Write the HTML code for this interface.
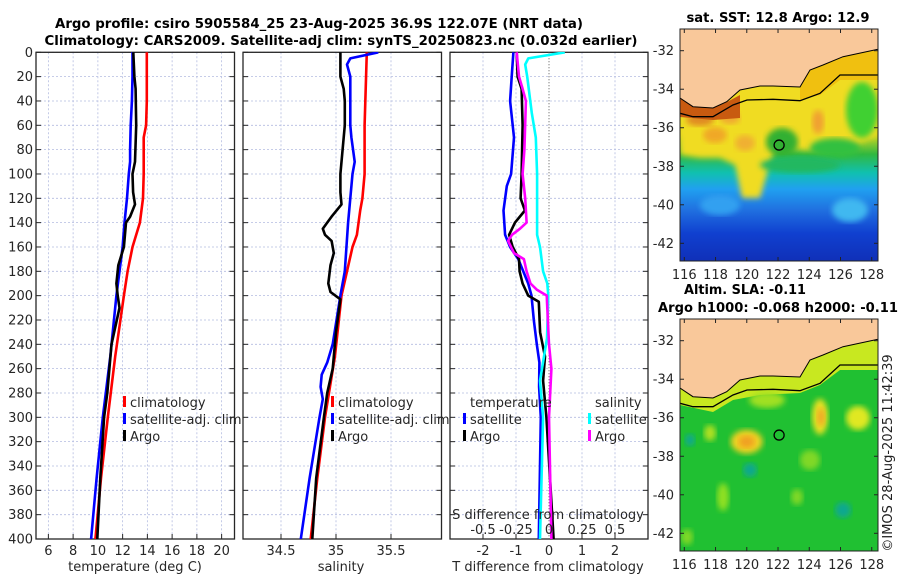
<!DOCTYPE html>
<html><head><meta charset="utf-8"><style>
html,body{margin:0;padding:0;background:#fff;}
svg{display:block;font-family:"DejaVu Sans","Liberation Sans",sans-serif;}
</style></head><body>
<svg id="fig" width="900" height="580" viewBox="0 0 900 580" xmlns="http://www.w3.org/2000/svg">
<defs>
<clipPath id="c1"><rect x="36" y="52" width="198.5" height="487"/></clipPath>
<clipPath id="c2"><rect x="243" y="52" width="198.5" height="487"/></clipPath>
<clipPath id="c3"><rect x="450" y="52" width="198" height="487"/></clipPath>
<clipPath id="cm1"><rect x="680" y="29" width="198" height="232"/></clipPath>
<clipPath id="cm2"><rect x="680" y="319" width="198" height="232"/></clipPath>
<linearGradient id="sstg" x1="0" y1="29" x2="0" y2="261" gradientUnits="userSpaceOnUse">
<stop offset="0" stop-color="#e8d020"/><stop offset="0.45" stop-color="#d8d820"/><stop offset="0.54" stop-color="#30b840"/>
<stop offset="0.62" stop-color="#10c0b0"/><stop offset="0.69" stop-color="#20a0f0"/>
<stop offset="0.78" stop-color="#2070e0"/><stop offset="0.88" stop-color="#1040d0"/><stop offset="1" stop-color="#1030b8"/>
</linearGradient>
<filter id="blur"><feGaussianBlur stdDeviation="3"/></filter>
</defs>
<g>
<text x="319" y="28" text-anchor="middle" font-weight="bold" font-size="13" textLength="528" lengthAdjust="spacingAndGlyphs" fill="#000">Argo profile: csiro 5905584_25 23-Aug-2025 36.9S 122.07E (NRT data)</text>
<text x="341" y="45" text-anchor="middle" font-weight="bold" font-size="13" textLength="593" lengthAdjust="spacingAndGlyphs" fill="#000">Climatology: CARS2009. Satellite-adj clim: synTS_20250823.nc (0.032d earlier)</text>
</g>
<g id="panels"></g>
<g id="maps"></g>
<text transform="translate(892,453) rotate(-90)" text-anchor="middle" font-size="13" fill="#222">©IMOS 28-Aug-2025 11:42:39</text>
</svg>
<script>
// ---- data: temperature panel ----
const tClimDepth = [0,20,40,60,70,100,120,140,160,180,200,250,300,350,400];
const tClim      = [13.95,13.95,13.95,13.9,13.7,13.7,13.65,13.4,12.8,12.4,12.1,11.4,10.8,10.25,9.8];
const tSatDepth  = [0,20,40,60,80,90,100,120,140,160,180,200,250,300,350,400];
const tSat       = [12.8,12.8,12.75,12.65,12.6,12.6,12.5,12.35,12.15,12.0,11.75,11.5,11.0,10.4,9.9,9.45];
const tArgoDepth = [0,20,30,60,90,100,115,125,135,140,160,175,190,200,210,240,280,300,350,400];
const tArgo      = [12.86,12.95,13.05,13.1,13.0,12.8,12.85,13.0,12.6,12.27,12.1,11.65,11.5,11.6,11.75,11.1,10.76,10.5,10.2,9.95];
// ---- data: salinity panel ----
const sClimDepth = [0,60,100,120,130,150,160,200,250,300,350,400];
const sClim      = [35.28,35.26,35.26,35.24,35.22,35.19,35.15,35.05,34.99,34.9,34.83,34.77];
const sSatDepth  = [0,5,10,20,60,70,90,100,140,180,200,240,255,265,275,285,300,350,400];
const sSat       = [35.385,35.13,35.1,35.13,35.13,35.14,35.17,35.15,35.11,35.08,35.04,34.97,34.92,34.87,34.86,34.88,34.85,34.76,34.68];
const sArgoDepth = [0,20,30,40,60,80,100,115,125,135,140,145,150,155,165,175,190,197,203,230,260,280,300,350,400];
const sArgo      = [35.04,35.04,35.07,35.08,35.08,35.06,35.04,35.04,35.05,34.96,34.92,34.88,34.9,34.96,34.98,34.95,34.93,34.95,35.04,35.0,34.97,34.92,34.89,34.82,34.785];
// ---- data: difference panel ----
const dTSatDepth = [0,20,40,70,100,110,130,150,160,170,190,200,220,240,255,275,300,400];
const dTSat      = [-1.08,-1.13,-1.18,-1.06,-1.15,-1.28,-1.38,-1.33,-1.18,-0.93,-0.63,-0.53,-0.46,-0.37,-0.29,-0.3,-0.25,-0.31];
const dTArgoDepth= [0,20,30,60,100,120,130,140,150,160,170,180,190,200,205,230,250,270,300,400];
const dTArgo     = [-0.98,-0.95,-0.83,-0.8,-0.83,-0.86,-0.73,-1.03,-1.21,-1.1,-0.91,-0.89,-0.8,-0.63,-0.31,-0.27,-0.12,-0.18,-0.08,0.14];
const dSSatDepth = [0,5,10,20,50,70,100,130,150,160,180,190,200,235,270,300,400];
const dSSat      = [0.12,-0.157,-0.18,-0.165,-0.13,-0.1,-0.09,-0.09,-0.09,-0.068,-0.045,-0.013,-0.005,-0.015,-0.068,-0.045,-0.068];
const dSArgoDepth= [0,20,30,40,80,100,120,140,145,150,155,165,170,180,190,195,200,205,240,260,300,400];
const dSArgo     = [-0.245,-0.227,-0.2,-0.175,-0.186,-0.2,-0.18,-0.17,-0.22,-0.28,-0.31,-0.265,-0.19,-0.17,-0.14,-0.093,-0.017,-0.015,0,0.018,0,0.018];
// ---- tick labels ----
const depthTicks = [0,20,40,60,80,100,120,140,160,180,200,220,240,260,280,300,320,340,360,380,400];
const tTicks = [6,8,10,12,14,16,18,20];
const sTicks = [34.5,35,35.5];
const dTTicks = [-2,-1,0,1,2];
const dSTicks = [-0.5,-0.25,0,0.25,0.5];
const dSTickLabels = ["-0.5","-0.25","0","0.25","0.5"];
const lonTicks = [116,118,120,122,124,126,128];
const latTicks = [-32,-34,-36,-38,-40,-42];
const argoLon = 122.07, argoLat = -36.9;

const NS="http://www.w3.org/2000/svg";
function mk(tag, attrs, parent){const e=document.createElementNS(NS,tag);for(const k in attrs)e.setAttribute(k,attrs[k]);(parent||document.getElementById('panels')).appendChild(e);return e;}
const Y0=52.3, Y1=539;
const yD = d => Y0 + d*(Y1-Y0)/400;
const xT = t => 36 + (t-5)*12.375;
const xS = s => 336 + (s-35)*110;
const xDT = v => 549 + v*33;
const xDS = v => 549 + v*132;
const panels=document.getElementById('panels');
const GRID="#b4bce0", AX="#262626";

function panelFrame(x0,x1,name,gridXs){
  const g=mk('g',{},panels);
  
  
  depthTicks.forEach(d=>{mk('line',{x1:x0,x2:x1,y1:yD(d),y2:yD(d),stroke:GRID,'stroke-width':0.8,'stroke-dasharray':'2,2'},g);});
  gridXs.forEach(x=>{mk('line',{x1:x,x2:x,y1:Y0,y2:Y1,stroke:GRID,'stroke-width':0.8,'stroke-dasharray':'2,2'},g);});
  depthTicks.forEach(d=>{
    mk('line',{x1:x0,x2:x0+5,y1:yD(d),y2:yD(d),stroke:AX,'stroke-width':1},g);
    mk('line',{x1:x1-5,x2:x1,y1:yD(d),y2:yD(d),stroke:AX,'stroke-width':1},g);
  });
  gridXs.forEach(x=>{mk('line',{x1:x,x2:x,y1:Y1,y2:Y1-5,stroke:AX,'stroke-width':1},g);});
  mk('rect',{x:x0,y:Y0,width:x1-x0,height:Y1-Y0,fill:'none',stroke:AX,'stroke-width':1.3},g);
  return g;
}
function line(depths, vals, xf, color, name, clip){
  const pts=depths.map((d,i)=>xf(vals[i]).toFixed(1)+','+yD(d).toFixed(1)).join(' ');
  const p=mk('polyline',{points:pts,fill:'none',stroke:color,'stroke-width':2.6,'stroke-linejoin':'round','clip-path':'url(#'+clip+')'},panels);
  
  
}
function label(x,y,txt,anchor,name,size){
  const t=mk('text',{x:x,y:y,'text-anchor':anchor||'middle','font-size':size||13,fill:'#262626'},panels);
  t.textContent=txt;
  
  
  return t;
}
function legendRow(x,y,color,txt,name){
  mk('rect',{x:x,y:y-11,width:3,height:11,fill:color},panels);
  label(x+7,y,txt,'start',name);
}

// Panel 1
panelFrame(36,234.5,'temperature-panel',tTicks.map(xT));
line(tClimDepth,tClim,xT,'#ff0000','temp-climatology-line','c1');
line(tSatDepth,tSat,xT,'#0000ff','temp-satellite-line','c1');
line(tArgoDepth,tArgo,xT,'#000000','temp-argo-line','c1');
depthTicks.forEach(d=>label(33,yD(d)+4.5,String(d),'end','depth-tick-label'));
tTicks.forEach(t=>label(xT(t),555,String(t),'middle','temp-tick-label'));
label(135,571,'temperature (deg C)','middle','temp-axis-title');
legendRow(123,407,'#ff0000','climatology','legend-climatology');
legendRow(123,424,'#0000ff','satellite-adj. clim','legend-satellite');
legendRow(123,441,'#000000','Argo','legend-argo');

// Panel 2
panelFrame(243,441.5,'salinity-panel',sTicks.map(xS));
line(sClimDepth,sClim,xS,'#ff0000','sal-climatology-line','c2');
line(sSatDepth,sSat,xS,'#0000ff','sal-satellite-line','c2');
line(sArgoDepth,sArgo,xS,'#000000','sal-argo-line','c2');
sTicks.forEach(s=>label(xS(s),555,String(s),'middle','sal-tick-label'));
label(341,571,'salinity','middle','sal-axis-title');
legendRow(331,407,'#ff0000','climatology','legend-climatology');
legendRow(331,424,'#0000ff','satellite-adj. clim','legend-satellite');
legendRow(331,441,'#000000','Argo','legend-argo');

// Panel 3
panelFrame(450,648,'difference-panel',dTTicks.filter(v=>v!==0).map(xDT));
mk('line',{x1:xDT(0),x2:xDT(0),y1:Y0,y2:Y1,stroke:'#555','stroke-width':1,'stroke-dasharray':'1,2'},panels);
line(dTSatDepth,dTSat,xDT,'#0000ff','dT-satellite-line','c3');
line(dTArgoDepth,dTArgo,xDT,'#000000','dT-argo-line','c3');
line(dSSatDepth,dSSat,xDS,'#00ffff','dS-satellite-line','c3');
line(dSArgoDepth,dSArgo,xDS,'#ff00ff','dS-argo-line','c3');
dTTicks.forEach(v=>label(xDT(v),555,String(v),'middle','dT-tick-label'));
label(548,571,'T difference from climatology','middle','dT-axis-title');
label(548,519,'S difference from climatology','middle','dS-axis-title');
dSTicks.forEach((v,i)=>label(xDS(v),534,dSTickLabels[i],'middle','dS-tick-label'));
label(470,407,'temperature','start','legend-temperature-header');
legendRow(463,424,'#0000ff','satellite','legend-dT-satellite');
legendRow(463,441,'#000000','Argo','legend-dT-argo');
label(595,407,'salinity','start','legend-salinity-header');
legendRow(588,424,'#00ffff','satellite','legend-dS-satellite');
legendRow(588,441,'#ff00ff','Argo','legend-dS-argo');

// ---- maps ----
const maps=document.getElementById('maps');
const lonX = lon => 684.3 + (lon-116)*15.62;
const coast = "680,98 693,106.7 713,108 726.7,101.7 740,90 760,86 773,86 800,87 810,70 823,65 843,56.7 878,49.3 878,29 680,29";
const coastLine = "680,98 693,106.7 713,108 726.7,101.7 740,90 760,86 773,86 800,87 810,70 823,65 843,56.7 878,49.3";
const shelf = "680,113.3 693,116.7 713,116.7 733,105 747,100 773,99.3 800,100.7 820,93.3 840,75 878,75";
function mapBox(dy, name, drawField){
  const g=mk('g',{},maps);
  
  
  const latY = lat => 50.7 + dy + (-32-lat)*19.26;
  const f=mk('g',{'clip-path':'url(#'+(dy?'cm2':'cm1')+')'},g);
  drawField(f,dy);
  const c=mk('g',{transform:'translate(0,'+dy+')'},f);
  mk('polygon',{points:coast,fill:'#f9c89a'},c);
  mk('polyline',{points:coastLine,fill:'none',stroke:'#000','stroke-width':1},c);
  mk('polyline',{points:shelf,fill:'none',stroke:'#000','stroke-width':1.3},c);
  const m=mk('circle',{cx:lonX(argoLon),cy:latY(argoLat),r:5,fill:'none',stroke:'#000','stroke-width':1.3},g);
  
  
  mk('rect',{x:680,y:29+dy,width:198,height:232,fill:'none',stroke:'#222','stroke-width':1},g);
  lonTicks.forEach(l=>{
    const x=lonX(l);
    mk('line',{x1:x,x2:x,y1:29+dy,y2:33+dy,stroke:'#222'},g);
    mk('line',{x1:x,x2:x,y1:261+dy,y2:257+dy,stroke:'#222'},g);
    const t=mk('text',{x:x,y:279+dy,'text-anchor':'middle','font-size':13,fill:'#262626'},g);t.textContent=String(l);
  });
  latTicks.forEach(l=>{
    const y=latY(l);
    mk('line',{x1:680,x2:684,y1:y,y2:y,stroke:'#222'},g);
    mk('line',{x1:878,x2:874,y1:y,y2:y,stroke:'#222'},g);
    const t=mk('text',{x:674,y:y+4.5,'text-anchor':'end','font-size':13,fill:'#262626'},g);t.textContent=String(l);
  });
  return g;
}
function ell(g,cx,cy,rx,ry,col,blur){mk('ellipse',{cx:cx,cy:cy,rx:rx,ry:ry,fill:col,filter:blur?'url(#blur)':''},g);}
mapBox(0,'sst-map',(g)=>{
  mk('rect',{x:680,y:29,width:198,height:232,fill:'url(#sstg)'},g);
  mk('polygon',{points:"680,95 878,60 878,135 845,150 805,150 790,148 775,150 768,170 760,198 742,198 735,165 720,158 700,158 680,155",fill:'#f0dc20',filter:'url(#blur)'},g);
  ell(g,715,135,12,8,'#f0a828',1); ell(g,745,143,10,8,'#f0b030',1); ell(g,700,120,14,6,'#e08a20',1);
  ell(g,818,122,6,12,'#f0a030',1); ell(g,730,118,10,6,'#f0a830',1);
  ell(g,782,142,16,14,'#30b030',1); ell(g,862,110,16,28,'#40d030',1); ell(g,835,148,25,10,'#30c040',1);
  ell(g,800,165,40,8,'#20b860',1);
  mk('polygon',{points:"680,97 713,108 727,102 740,95 740,118 713,120 680,117",fill:'#c85a10'},g);
  mk('polygon',{points:"800,87 810,70 843,56 878,49 878,80 840,80 820,95 800,100",fill:'#f0c010'},g);
  ell(g,850,210,18,12,'#40b8f0',1); ell(g,720,205,20,10,'#30a0f0',1);
});
mapBox(290,'sla-map',(g)=>{
  mk('rect',{x:680,y:319,width:198,height:232,fill:'#20c032'},g);
  mk('polygon',{points:"680,383 693,392 713,394 727,388 740,376 773,375 800,377 810,360 843,343 878,335 878,370 840,370 820,385 800,393 760,395 733,400 713,412 680,405",fill:'#c8e820'},g);
  ell(g,746.7,441.7,16,12,'#f0d020',1); ell(g,746.7,441.7,8,6,'#f0a020',1);
  ell(g,820,416.7,8,18,'#e8e020',1); ell(g,821,417,4,9,'#f0a828',1);
  ell(g,858,418,12,12,'#e0e820',1);
  ell(g,710,433,6,8,'#b0e020',1); ell(g,767,400,18,8,'#a0e020',1);
  ell(g,810,460,10,10,'#80d828',1); ell(g,723,497,6,14,'#90e020',1); ell(g,797,497,6,8,'#80d828',1); ell(g,687,537,6,8,'#80d828',1);
  ell(g,750,470,7,7,'#10a890',1); ell(g,690,440,5,6,'#10a890',1); ell(g,843,510,8,8,'#10a890',1);
});
const mt=[[778,22,'sat. SST: 12.8 Argo: 12.9','sst-map-title',183],[745,294,'Altim. SLA: -0.11','sla-map-title',122],[778,312,'Argo h1000: -0.068 h2000: -0.11','argo-height-title',240]];
mt.forEach(a=>{
  const t=mk('text',{x:a[0],y:a[1],'text-anchor':'middle','font-size':13,'font-weight':'bold',fill:'#000',textLength:a[4],lengthAdjust:'spacingAndGlyphs'},maps);
  t.textContent=a[2];
  
  
});
</script>
</body></html>
